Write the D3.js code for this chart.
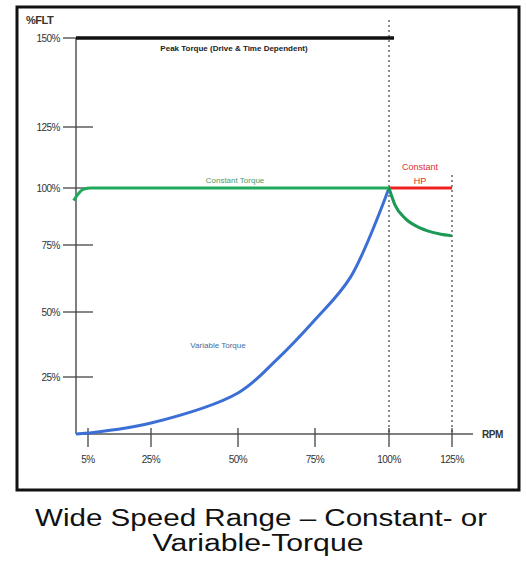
<!DOCTYPE html>
<html>
<head>
<meta charset="utf-8">
<script src="https://cdn.jsdelivr.net/npm/d3@7"></script>
<style>
  html, body { margin: 0; padding: 0; background: #fff; }
  svg { display: block; }
</style>
</head>
<body>
<svg id="chart" width="526" height="561"></svg>
<script>
/* data: x = % speed (RPM), y = % full-load torque */
const xTicks = [5, 25, 50, 75, 100, 125];
const yTicks = [25, 50, 75, 100, 125, 150];
const xTickLabels = ["5%", "25%", "50%", "75%", "100%", "125%"];
const yTickLabels = ["25%", "50%", "75%", "100%", "125%", "150%"];

const peakTorque = [[0, 150], [102, 150]];
const constantTorque = [[-1, 94.5], [1, 97.5], [3, 99.4], [6, 100], [100, 100]];
const constantHP = [[100, 100], [125, 100]];
const hpTorque = [[100, 100], [102.4, 92.5], [106.3, 86.8], [112.3, 82.5], [120.2, 79.8], [125, 79]];
const variableTorque = [[0, 0], [5, 0.4], [25, 4.8], [50, 18], [62, 31], [75, 47], [87, 63], [100, 100]];

/* the picture's axes are hand drawn, so scales are piecewise */
const x = d3.scaleLinear().domain([0, 5, 25, 50, 75, 100, 125]).range([76, 88, 151, 238, 315, 389, 452]);
const y = d3.scaleLinear().domain([0, 25, 50, 75, 100, 125, 150]).range([434, 377, 312, 245, 188, 127, 38]);

const svg = d3.select("#chart");
const font = "'Liberation Sans', Arial, sans-serif";

// frame
svg.append("rect")
  .attr("x", 17).attr("y", 7).attr("width", 502).attr("height", 483)
  .attr("fill", "none").attr("stroke", "#111").attr("stroke-width", 3);

// dotted speed markers
svg.append("line")
  .attr("x1", x(100)).attr("x2", x(100)).attr("y1", 20).attr("y2", y(0))
  .attr("stroke", "#666").attr("stroke-width", 1.5).attr("stroke-dasharray", "2,3");
svg.append("line")
  .attr("x1", x(125)).attr("x2", x(125)).attr("y1", 175).attr("y2", y(0))
  .attr("stroke", "#666").attr("stroke-width", 1.5).attr("stroke-dasharray", "2,3");

// axes
svg.append("line")
  .attr("x1", x(0)).attr("x2", x(0)).attr("y1", y(150)).attr("y2", y(0))
  .attr("stroke", "#555").attr("stroke-width", 1.5);
svg.append("line")
  .attr("x1", x(0)).attr("x2", 473).attr("y1", y(0)).attr("y2", y(0))
  .attr("stroke", "#555").attr("stroke-width", 1.5);

// y ticks
const yg = svg.append("g");
yg.selectAll("line").data(yTicks).join("line")
  .attr("x1", 63).attr("x2", 93)
  .attr("y1", d => y(d)).attr("y2", d => y(d))
  .attr("stroke", "#444").attr("stroke-width", 1.3);
yg.selectAll("text").data(yTicks).join("text")
  .attr("x", 60).attr("y", d => y(d) + 3.5)
  .attr("text-anchor", "end")
  .attr("font-family", font).attr("font-size", 10).attr("fill", "#333")
  .attr("letter-spacing", -0.5)
  .text((d, i) => yTickLabels[i]);
svg.append("text")
  .attr("x", 26).attr("y", 24)
  .attr("font-family", font).attr("font-size", 11).attr("font-weight", "bold").attr("fill", "#333")
  .attr("letter-spacing", -0.5)
  .text("%FLT");

// x ticks
const xg = svg.append("g");
xg.selectAll("line").data(xTicks).join("line")
  .attr("x1", d => x(d)).attr("x2", d => x(d))
  .attr("y1", 428).attr("y2", 447)
  .attr("stroke", "#444").attr("stroke-width", 1.3);
xg.selectAll("text").data(xTicks).join("text")
  .attr("x", d => x(d)).attr("y", 463)
  .attr("text-anchor", "middle")
  .attr("font-family", font).attr("font-size", 10).attr("fill", "#333")
  .attr("letter-spacing", -0.5)
  .text((d, i) => xTickLabels[i]);
svg.append("text")
  .attr("x", 482).attr("y", 438)
  .attr("font-family", font).attr("font-size", 10).attr("font-weight", "bold").attr("fill", "#333")
  .attr("letter-spacing", -0.5)
  .text("RPM");

// curves
const smooth = d3.line().x(d => x(d[0])).y(d => y(d[1])).curve(d3.curveCatmullRom.alpha(0.5));
const mono = d3.line().x(d => x(d[0])).y(d => y(d[1])).curve(d3.curveMonotoneX);
const straight = d3.line().x(d => x(d[0])).y(d => y(d[1]));

svg.append("path").attr("d", straight(peakTorque))
  .attr("fill", "none").attr("stroke", "#111").attr("stroke-width", 3.5);
svg.append("path").attr("d", smooth(variableTorque))
  .attr("fill", "none").attr("stroke", "#3b6fd6").attr("stroke-width", 3);
svg.append("path").attr("d", straight(constantHP))
  .attr("fill", "none").attr("stroke", "#ee2020").attr("stroke-width", 3);
svg.append("path").attr("d", mono(constantTorque))
  .attr("fill", "none").attr("stroke", "#1faa5c").attr("stroke-width", 3);
svg.append("path").attr("d", mono(hpTorque))
  .attr("fill", "none").attr("stroke", "#1a9a55").attr("stroke-width", 3);

// labels
svg.append("text")
  .attr("x", 234).attr("y", 51).attr("text-anchor", "middle")
  .attr("font-family", font).attr("font-size", 8).attr("font-weight", "bold").attr("fill", "#222")
  .text("Peak Torque (Drive & Time Dependent)");
svg.append("text")
  .attr("x", 235).attr("y", 183).attr("text-anchor", "middle")
  .attr("font-family", font).attr("font-size", 8).attr("fill", "#4a9a6a")
  .text("Constant Torque");
svg.append("text")
  .attr("x", 218).attr("y", 348).attr("text-anchor", "middle")
  .attr("font-family", font).attr("font-size", 8).attr("fill", "#4a6a9a")
  .text("Variable Torque");
svg.append("text")
  .attr("x", 420).attr("y", 170).attr("text-anchor", "middle")
  .attr("font-family", font).attr("font-size", 9).attr("fill", "#e03030")
  .text("Constant");
svg.append("text")
  .attr("x", 420).attr("y", 184).attr("text-anchor", "middle")
  .attr("font-family", font).attr("font-size", 9).attr("fill", "#e03030")
  .text("HP");

// caption
svg.append("text")
  .attr("x", 261).attr("y", 526).attr("text-anchor", "middle")
  .attr("font-family", font).attr("font-size", 23).attr("fill", "#111")
  .attr("textLength", 452).attr("lengthAdjust", "spacingAndGlyphs")
  .text("Wide Speed Range – Constant- or");
svg.append("text")
  .attr("x", 258).attr("y", 551).attr("text-anchor", "middle")
  .attr("font-family", font).attr("font-size", 23).attr("fill", "#111")
  .attr("textLength", 211).attr("lengthAdjust", "spacingAndGlyphs")
  .text("Variable-Torque");
</script>
</body>
</html>
